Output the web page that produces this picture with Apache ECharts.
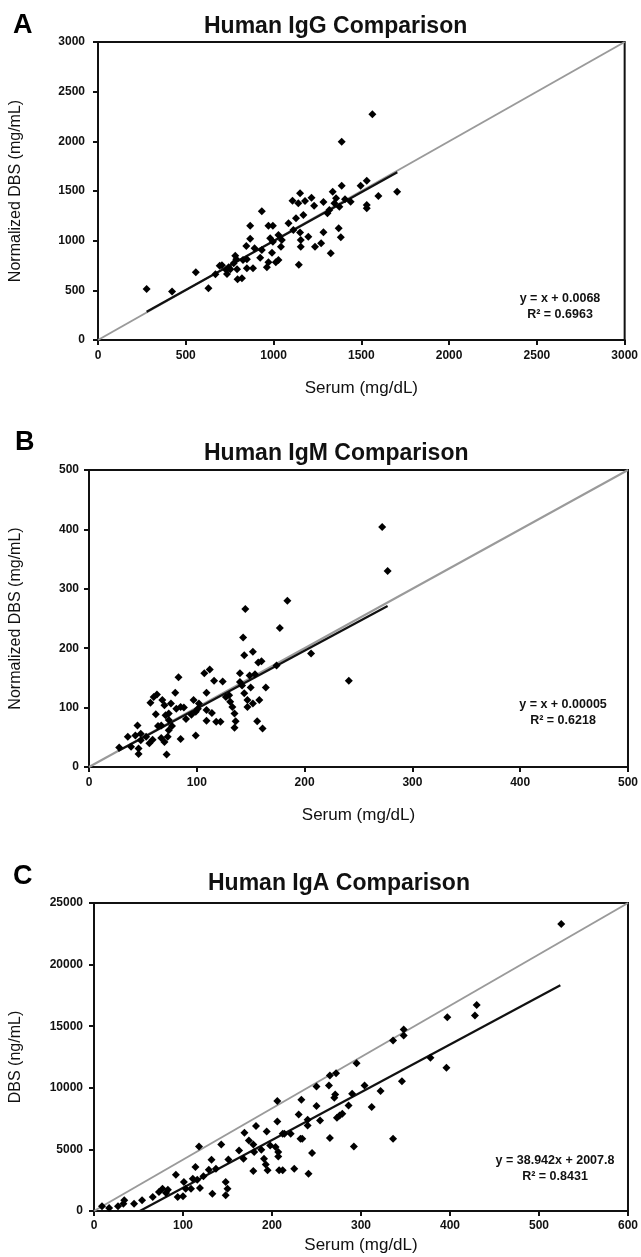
<!DOCTYPE html>
<html>
<head>
<meta charset="utf-8">
<script src="https://cdn.jsdelivr.net/npm/echarts@6/dist/echarts.min.js"></script>
<style>
html,body{margin:0;padding:0;background:#fff;}
#chart{width:641px;height:1257px;}
</style>
</head>
<body>
<div id="chart"></div>
<script>
// ---------- Panel A: Human IgG ----------
const igGSerum = [277,422,557,629,669,693,706,731,735,744,754,773,782,788,792,795,820,826,848,848,867,867,845,883,892,924,933,933,962,971,996,991,981,996,971,1013,1028,1028,1042,1047,1085,1108,1113,1128,1141,1151,1144,1151,1155,1155,1170,1179,1198,1216,1231,1236,1271,1284,1284,1307,1326,1337,1347,1356,1371,1383,1388,1388,1375,1407,1439,1496,1531,1531,1531,1563,1597,1704,1318];
const igGDbs   = [513,487,681,520,661,748,752,705,664,732,711,772,849,812,711,611,621,805,812,722,1020,1151,946,722,923,829,1295,906,732,1151,1151,879,1024,990,782,782,805,1057,940,1007,1175,1403,1108,1225,1376,1477,758,1081,1007,940,1258,1399,1040,1433,1352,940,973,1389,1084,1275,873,1493,1376,1426,1124,1034,1554,1997,1342,1416,1393,1554,1604,1359,1326,2272,1450,1493,1309];
const igGIdentity = [[0,0],[3000,3000]];
const igGTrend = [[277,285],[1705,1688]];
const igGTicks = {min:0, max:3000, step:500};
const igGEquation = ['y = x + 0.0068','R\u00B2 = 0.6963'];

// ---------- Panel B: Human IgM ----------
const igMSerum = [272,277,184,145,177,143,152,206,144,157,160,174,241,140,149,154,164,112,107,116,124,83,63,60,57,68,70,80,76,85,88,97,102,99,95,90,109,109,114,109,118,122,127,130,131,133,135,136,135,142,144,150,147,147,152,158,156,161,140,45,36,28,39,43,48,46,46,53,56,59,64,67,67,73,70,72,74,77,85,99,74,71,62,101,48,74,81];
const igMDbs   = [404,330,280,266,234,218,194,191,188,176,178,171,145,158,154,156,134,164,158,145,144,151,122,118,108,113,104,125,107,101,100,113,107,93,88,81,125,96,91,78,76,76,118,121,110,101,90,77,66,137,124,134,113,101,107,113,77,65,143,70,51,33,34,53,56,22,31,51,40,46,69,70,49,51,42,21,62,69,47,53,79,87,89,98,45,90,98];
const igMIdentity = [[0,0],[500,500]];
const igMTrend = [[27,27],[277,271]];
const igMTicks = {min:0, max:500, step:100};
const igMEquation = ['y = x + 0.00005','R\u00B2 = 0.6218'];

// ---------- Panel C: Human IgA ----------
const igASerum = [9,17,27,33,34,45,54,66,73,77,81,83,92,94,100,101,103,109,111,114,116,119,118,123,129,132,133,137,143,151,148,150,148,163,168,169,174,179,179,180,182,188,191,193,195,194,198,204,207,207,206,206,208,212,212,214,221,225,230,232,234,233,240,240,241,245,250,254,250,264,265,265,270,271,272,273,276,279,286,290,292,295,304,312,322,336,336,346,348,348,378,396,397,428,430,525];
const igADbs   = [378,243,378,595,865,595,865,1135,1540,1811,1460,1730,2946,1135,1189,2352,1811,1811,2622,3568,2541,1865,5244,2811,3352,4163,1406,3433,5406,4190,2352,1811,1270,4920,4244,6352,5730,5406,3244,4785,6893,4974,4244,3784,3298,6460,5325,5190,4785,4433,7271,8920,3298,3298,6271,6271,6271,3433,7839,5865,5865,9028,6947,7406,3027,4703,8515,7352,10109,10190,11000,5920,9190,9460,11190,7568,7757,7892,8569,9515,5244,12000,10190,8434,9731,5866,13840,10541,14245,14731,12434,11623,15731,15866,16730,23300];
const igAIdentity = [[0,0],[600,25000]];
const igATrend = [[51.5,0],[524,18320]];
const igAXTicks = {min:0, max:600, step:100};
const igAYTicks = {min:0, max:25000, step:5000};
const igAEquation = ['y = 38.942x + 2007.8','R\u00B2 = 0.8431'];

const FONT = "'Liberation Sans', Arial, sans-serif";
const INK = '#111';

function pairs(xs, ys){ return xs.map((x,i)=>[x, ys[i]]); }

function axis(t, gridIndex, name, nameGap, labelMargin){
  return {
    type:'value', gridIndex, min:t.min, max:t.max, interval:t.step,
    name, nameLocation:'middle', nameGap,
    nameTextStyle:{fontFamily:FONT, fontSize:16, color:INK},
    splitLine:{show:false},
    axisLine:{show:true, lineStyle:{color:INK, width:2}},
    axisTick:{show:true, inside:false, length:5, lineStyle:{color:INK, width:2}},
    axisLabel:{fontFamily:FONT, fontSize:12, fontWeight:'bold', color:INK, margin:labelMargin,
      formatter:(v)=>String(v)}
  };
}

const grids = [
  {left:97, top:42, width:533, height:298},
  {left:88, top:470, width:541, height:297},
  {left:93, top:903, width:539, height:308}
].map(g => Object.assign(g, {show:true, borderColor:INK, borderWidth:2, containLabel:false}));

const xAxes = [
  axis(igGTicks, 0, 'Serum (mg/dL)', 40, 10),
  axis(igMTicks, 1, 'Serum (mg/dL)', 40, 10),
  axis(igAXTicks, 2, 'Serum (mg/dL)', 26, 9)
];
xAxes.forEach(a => a.nameTextStyle.fontSize = 17);
const yAxes = [
  axis(igGTicks, 0, 'Normalized DBS (mg/mL)', 74, 13),
  axis(igMTicks, 1, 'Normalized DBS (mg/mL)', 65, 10),
  axis(igAYTicks, 2, 'DBS (ng/mL)', 70, 11)
];

function panelSeries(idx, xs, ys, identity, trend){
  return [
    {type:'line', xAxisIndex:idx, yAxisIndex:idx, data:identity, symbol:'none', silent:true,
     lineStyle:{color:'#9a9a9a', width:2}, z:1},
    {type:'line', xAxisIndex:idx, yAxisIndex:idx, data:trend, symbol:'none', silent:true,
     lineStyle:{color:'#111', width:2.2}, z:2},
    {type:'scatter', xAxisIndex:idx, yAxisIndex:idx, data:pairs(xs, ys), symbol:'diamond',
     symbolSize:8, itemStyle:{color:'#000', opacity:1}, z:3}
  ];
}

const titleStyle = {fontFamily:FONT, fontSize:23, fontWeight:'bold', color:INK};
const letterStyle = {fontFamily:FONT, fontSize:27, fontWeight:'bold', color:'#000'};

function eqText(lines, x, y){
  return {type:'text', x, y, style:{text:lines.join('\n'), textAlign:'center', textVerticalAlign:'top',
    fontFamily:FONT, fontSize:12.5, fontWeight:'bold', fill:INK, lineHeight:16}};
}

const option = {
  backgroundColor:'#fff',
  animation:false,
  title:[
    {text:'Human IgG Comparison', left:199, top:10, textStyle:titleStyle},
    {text:'Human IgM Comparison', left:199, top:437, textStyle:titleStyle},
    {text:'Human IgA Comparison', left:203, top:867, textStyle:titleStyle},
    {text:'A', left:8, top:7, textStyle:letterStyle},
    {text:'B', left:10, top:424, textStyle:letterStyle},
    {text:'C', left:8, top:858, textStyle:letterStyle}
  ],
  grid:grids,
  xAxis:xAxes,
  yAxis:yAxes,
  graphic:[
    eqText(igGEquation, 560, 291),
    eqText(igMEquation, 563, 697),
    eqText(igAEquation, 555, 1153)
  ],
  series:[].concat(
    panelSeries(0, igGSerum, igGDbs, igGIdentity, igGTrend),
    panelSeries(1, igMSerum, igMDbs, igMIdentity, igMTrend),
    panelSeries(2, igASerum, igADbs, igAIdentity, igATrend)
  )
};

const chart = echarts.init(document.getElementById('chart'), null, {renderer:'canvas'});
chart.setOption(option);
</script>
</body>
</html>
